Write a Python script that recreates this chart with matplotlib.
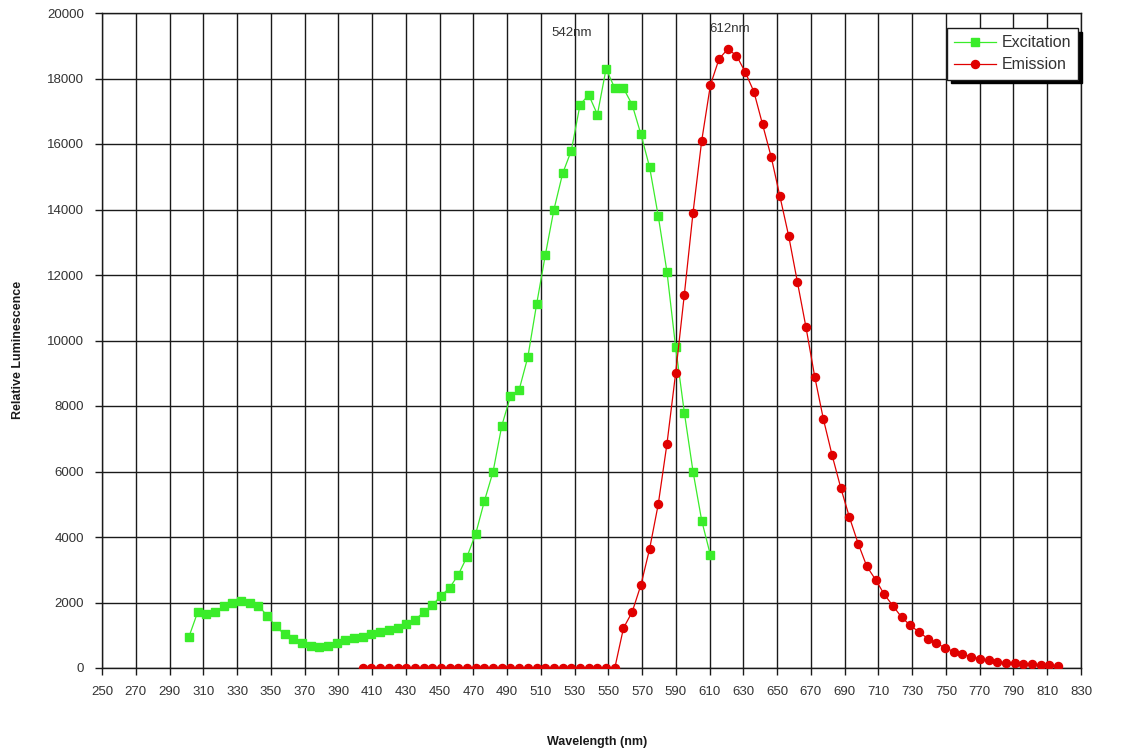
import matplotlib
matplotlib.use("Agg")
import matplotlib.pyplot as plt
import numpy as np

plt.rcParams['font.family'] = ['Liberation Sans', 'DejaVu Sans']

# ---- data ----
exc_wavelength = list(range(300, 601, 5))
exc_values = [950, 1700, 1650, 1720, 1880, 2000, 2040, 1990, 1900, 1600,
              1270, 1030, 880, 750, 670, 650, 670, 760, 860, 920,
              950, 1030, 1090, 1150, 1230, 1350, 1470, 1700, 1920, 2200,
              2450, 2850, 3400, 4100, 5100, 6000, 7400, 8300, 8500, 9500,
              11100, 12600, 14000, 15100, 15800, 17200, 17500, 16900, 18300, 17700,
              17700, 17200, 16300, 15300, 13800, 12100, 9800, 7800, 6000, 4500,
              3450]

em_wavelength = list(range(400, 801, 5))
em_values = [0] * 30 + [
    1220, 1710, 2530, 3630, 5000, 6840, 9000, 11400, 13900, 16100,
    17800, 18600, 18900, 18700, 18200, 17600, 16600, 15600, 14400, 13200,
    11800, 10400, 8900, 7600, 6500, 5500, 4600, 3800, 3100, 2700,
    2250, 1900, 1550, 1300, 1100, 900, 750, 620, 500, 420,
    350, 280, 230, 190, 160, 140, 120, 110, 100, 90, 70]

x_tick_labels = [str(v) for v in range(250, 831, 20)]
y_ticks = list(range(0, 20001, 2000))

peak_labels = ["542nm", "612nm"]
peak_label_pos = [(520, 19400), (611, 19500)]

# ---- figure ----
fig = plt.figure(figsize=(11.32, 7.48), dpi=100)
ax = fig.add_axes([102/1132, 80/748, 979/1132, 655/748])

x_min, x_max = 250.0, 813.2
ax.set_xlim(x_min, x_max)
ax.set_ylim(0, 20000)

xt_pos = np.linspace(x_min, x_max, len(x_tick_labels))
ax.set_xticks(xt_pos)
ax.set_xticklabels(x_tick_labels)
ax.set_yticks(y_ticks)
ax.set_yticklabels([str(v) for v in y_ticks])

ax.grid(True, color='#1a1a1a', linewidth=1.0)
ax.set_axisbelow(True)
for s in ax.spines.values():
    s.set_color('#1a1a1a')
    s.set_linewidth(1.0)

ax.tick_params(axis='both', direction='out', length=5, width=1,
               colors='#1a1a1a', labelcolor='#333333', labelsize=9.5)
ax.tick_params(axis='x', pad=8)
ax.tick_params(axis='y', pad=8)

green = '#3aec2a'
red = '#e00000'
ax.plot(exc_wavelength, exc_values, color=green, linewidth=0.9,
        marker='s', markersize=5.8, markerfacecolor=green,
        markeredgecolor=green, label='Excitation', zorder=3)
ax.plot(em_wavelength, em_values, color=red, linewidth=0.9,
        marker='o', markersize=5.8, markerfacecolor=red,
        markeredgecolor=red, label='Emission', zorder=3)

for txt, (px, py) in zip(peak_labels, peak_label_pos):
    ax.text(px, py, txt, ha='center', va='center', fontsize=9.5,
            color='#333333', zorder=4)

leg = ax.legend(loc='upper right', bbox_to_anchor=(0.997, 0.977),
                fontsize=11.5, frameon=True, fancybox=False,
                shadow={'color': 'black', 'alpha': 1.0, 'ox': 2.5, 'oy': -2.5},
                borderpad=0.45, handlelength=2.6, labelspacing=0.45,
                handletextpad=0.35, borderaxespad=0.0)
leg.get_frame().set_edgecolor('#1a1a1a')
leg.get_frame().set_linewidth(1.0)
leg.get_frame().set_facecolor('white')
leg.get_frame().set_alpha(1.0)
for t in leg.get_texts():
    t.set_color('#333333')

fig.text(597/1132, 1 - 742/748, 'Wavelength (nm)', ha='center', va='center',
         fontsize=9, fontweight='bold', color='#1a1a1a')
fig.text(18/1132, 1 - 350/748, 'Relative Luminescence', ha='center', va='center',
         rotation=90, fontsize=9, fontweight='bold', color='#1a1a1a')

fig.savefig('out.png', dpi=100)
